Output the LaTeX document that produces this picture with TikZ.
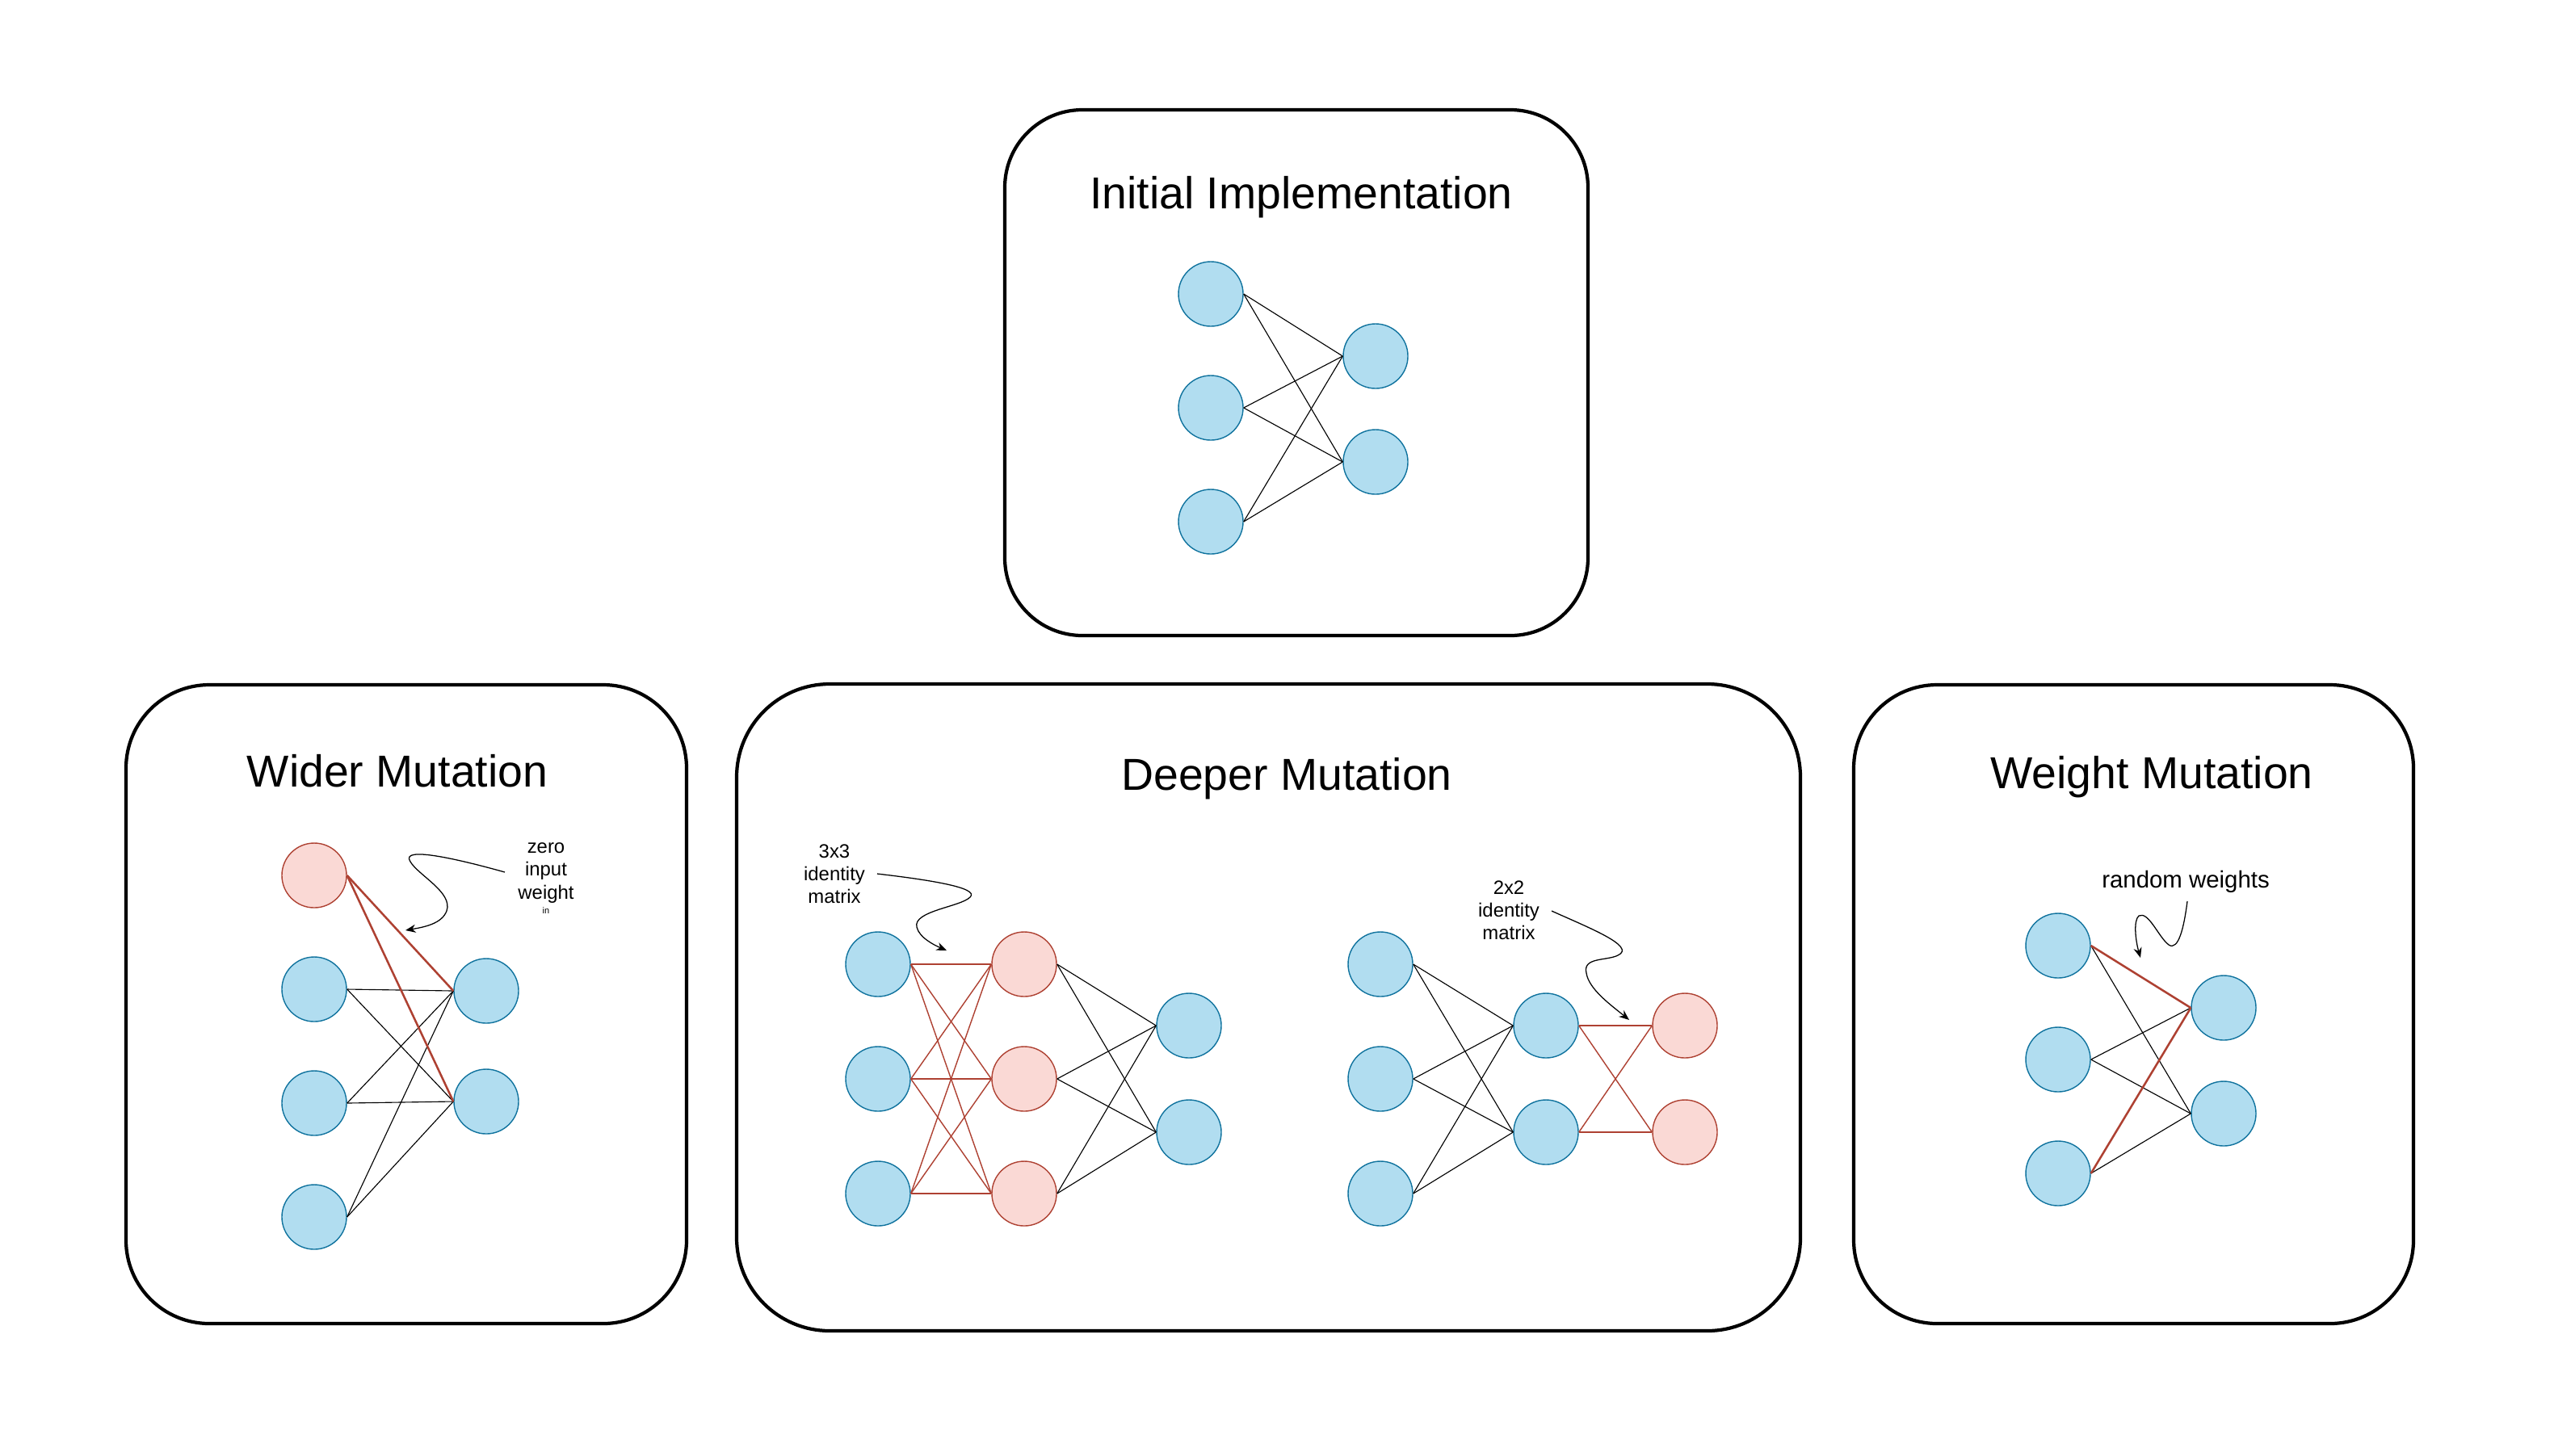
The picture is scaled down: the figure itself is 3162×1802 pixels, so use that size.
\documentclass[tikz,border=0pt]{standalone}
\usepackage{fontspec}
\setmainfont{Liberation Sans}
\usetikzlibrary{arrows.meta}
\definecolor{bfill}{HTML}{B1DDF0}
\definecolor{bline}{HTML}{10739E}
\definecolor{rfill}{HTML}{FAD9D5}
\definecolor{rline}{HTML}{AE4132}
\begin{document}
\begin{tikzpicture}[x=0.0125cm,y=-0.0125cm,
  bn/.style={circle,draw=bline,fill=bfill,line width=0.5pt,minimum size=1.0cm,inner sep=0pt},
  rn/.style={circle,draw=rline,fill=rfill,line width=0.5pt,minimum size=1.0cm,inner sep=0pt},
  panel/.style={draw=black,line width=1.5pt},
  ttl/.style={font=\fontsize{19.7}{24}\selectfont,inner sep=0pt,anchor=base},
  note/.style={font=\fontsize{8.5}{10}\selectfont,align=center,inner sep=0pt},
  wl/.style={draw=black,line width=0.4pt},
  rl/.style={draw=rline,line width=0.5pt},
  rlt/.style={draw=rline,line width=0.9pt},
  curl/.style={draw=black,line width=0.45pt,-{Stealth[length=4.5pt,width=3.6pt]}}]
\useasboundingbox (0,0) rectangle (3162,1802);
\fill[white] (0,0) rectangle (3162,1802);

% panels
\draw[panel,rounded corners=1.2cm] (1244,136) rectangle (1966,787);
\draw[panel,rounded corners=1.29cm] (156,848) rectangle (850,1639);
\draw[panel,rounded corners=1.44cm] (912,847) rectangle (2229,1648);
\draw[panel,rounded corners=1.29cm] (2295,848) rectangle (2988,1639);

% titles
\node[ttl] (tinit) at (1611,258) {Initial Implementation};
\node[ttl] (twide) at (492,974) {Wider Mutation};
\node[ttl] (tdeep) at (1593,978) {Deeper Mutation};
\node[ttl] (twght) at (2664,976) {Weight Mutation};

% ---------- Initial ----------
\node[bn] (i1) at (1499,364) {};
\node[bn] (i2) at (1499,505) {};
\node[bn] (i3) at (1499,646) {};
\node[bn] (o1) at (1703,441) {};
\node[bn] (o2) at (1703,572) {};
\foreach \a in {i1,i2,i3}{\foreach \b in {o1,o2}{\draw[wl] (\a.east) -- (\b.west);}}

% ---------- Wider ----------
\node[rn] (wr) at (389,1084) {};
\node[bn] (w1) at (389,1225) {};
\node[bn] (w2) at (389,1366) {};
\node[bn] (w3) at (389,1507) {};
\node[bn] (wo1) at (602,1227) {};
\node[bn] (wo2) at (602,1364) {};
\foreach \a in {w1,w2,w3}{\foreach \b in {wo1,wo2}{\draw[wl] (\a.east) -- (\b.west);}}
\draw[rlt] (wr.east) -- (wo1.west);
\draw[rlt] (wr.east) -- (wo2.west);
\node[note] (nzero) at (676,1081) {zero\\input\\weight};
\node[inner sep=0pt,font=\fontsize{3.9}{5}\selectfont] (nin) at (676,1128) {in};
\coordinate (za) at (625,1080);
\coordinate (zb) at (502,1152);
\draw[curl] (za) .. controls (575,1066) and (494,1046) .. (508,1067)
  .. controls (518,1084) and (561,1105) .. (553,1128)
  .. controls (547,1144) and (525,1148) .. (zb);

% ---------- Deeper (left) ----------
\node[bn] (da1) at (1087,1194) {};
\node[bn] (da2) at (1087,1336) {};
\node[bn] (da3) at (1087,1478) {};
\node[rn] (dr1) at (1268,1194) {};
\node[rn] (dr2) at (1268,1336) {};
\node[rn] (dr3) at (1268,1478) {};
\node[bn] (dc1) at (1472,1270) {};
\node[bn] (dc2) at (1472,1402) {};
\foreach \a in {da1,da2,da3}{\foreach \b in {dr1,dr2,dr3}{\draw[rl] (\a.east) -- (\b.west);}}
\foreach \a in {dr1,dr2,dr3}{\foreach \b in {dc1,dc2}{\draw[wl] (\a.east) -- (\b.west);}}
\node[note] (n33) at (1033,1082) {3x3\\identity\\matrix};
\coordinate (ta) at (1086,1082);
\coordinate (tb) at (1172,1177);
\draw[curl] (ta) .. controls (1146,1089) and (1214,1099) .. (1201,1111)
  .. controls (1189,1123) and (1130,1128) .. (1135,1148)
  .. controls (1138,1161) and (1156,1170) .. (tb);

% ---------- Deeper (right) ----------
\node[bn] (db1) at (1709,1194) {};
\node[bn] (db2) at (1709,1336) {};
\node[bn] (db3) at (1709,1478) {};
\node[bn] (dm1) at (1914,1270) {};
\node[bn] (dm2) at (1914,1402) {};
\node[rn] (ds1) at (2086,1270) {};
\node[rn] (ds2) at (2086,1402) {};
\foreach \a in {db1,db2,db3}{\foreach \b in {dm1,dm2}{\draw[wl] (\a.east) -- (\b.west);}}
\foreach \a in {dm1,dm2}{\foreach \b in {ds1,ds2}{\draw[rl] (\a.east) -- (\b.west);}}
\node[note] (n22) at (1868,1127) {2x2\\identity\\matrix};
\coordinate (sa) at (1921,1128);
\coordinate (sb) at (2017,1263);
\draw[curl] (sa) .. controls (1965,1148) and (2027,1172) .. (2003,1183)
  .. controls (1989,1190) and (1959,1185) .. (1964,1205)
  .. controls (1967,1225) and (1995,1245) .. (sb);

% ---------- Weight ----------
\node[bn] (g1) at (2548,1171) {};
\node[bn] (g2) at (2548,1312) {};
\node[bn] (g3) at (2548,1453) {};
\node[bn] (go1) at (2753,1248) {};
\node[bn] (go2) at (2753,1379) {};
\draw[wl] (g1.east) -- (go2.west);
\draw[wl] (g2.east) -- (go1.west);
\draw[wl] (g2.east) -- (go2.west);
\draw[wl] (g3.east) -- (go2.west);
\draw[rlt] (g1.east) -- (go1.west);
\draw[rlt] (g3.east) -- (go1.west);
\node[inner sep=0pt,font=\fontsize{10.45}{13}\selectfont] (nrw) at (2706,1092) {random weights};
\coordinate (ra) at (2708,1116);
\coordinate (rb) at (2650,1186);
\draw[curl] (ra) .. controls (2704,1148) and (2697,1178) .. (2685,1170)
  .. controls (2672,1160) and (2660,1128) .. (2648,1134)
  .. controls (2641,1140) and (2644,1165) .. (rb);
\end{tikzpicture}
\end{document}
